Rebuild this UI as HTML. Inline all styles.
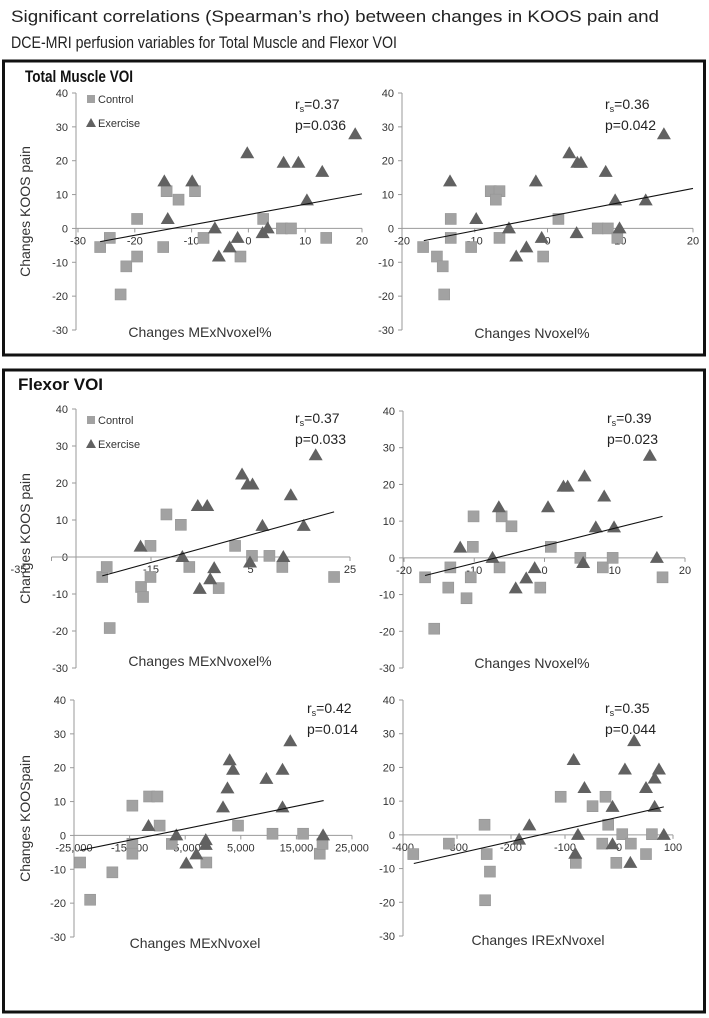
<!DOCTYPE html>
<html><head><meta charset="utf-8"><style>
html,body{margin:0;padding:0;background:#fff;}
svg{display:block;font-family:"Liberation Sans",sans-serif;}
</style></head><body>
<svg id="fig" width="709" height="1018" viewBox="0 0 709 1018" xmlns="http://www.w3.org/2000/svg">
<text x="11" y="22" font-size="17" fill="#222" textLength="648" lengthAdjust="spacingAndGlyphs">Significant correlations (Spearman’s rho) between changes in KOOS pain and</text>
<text x="11" y="48" font-size="17" fill="#222" textLength="386" lengthAdjust="spacingAndGlyphs">DCE-MRI perfusion variables for Total Muscle and Flexor VOI</text>
<rect x="3.5" y="61" width="701" height="294" fill="none" stroke="#111" stroke-width="3"/>
<text x="25" y="82" font-size="17" font-weight="bold" fill="#111" textLength="108" lengthAdjust="spacingAndGlyphs">Total Muscle VOI</text>
<rect x="3.5" y="370" width="701" height="642" fill="none" stroke="#111" stroke-width="3"/>
<text x="18" y="390" font-size="17" font-weight="bold" fill="#111">Flexor VOI</text>
<g id="charts"></g>
</svg>
<script>
// ---- chart data (data units) ----
const yTicks = [-30,-20,-10,0,10,20,30,40];
// A: Total muscle, MExNvoxel%
const aXTicks = [-30,-20,-10,0,10,20];
const aCtrlX = [-26.1,-24.4,-21.5,-22.5,-19.6,-19.6,-15,-14.4,-12.3,-9.4,-7.9,-1.4,2.6,5.9,7.5,13.7];
const aCtrlY = [-5.5,-2.8,-11.2,-19.5,2.8,-8.3,-5.5,11,8.5,11,-2.8,-8.3,2.8,0,0,-2.8];
const aExX = [-14.8,-14.2,-9.9,-5.9,-5.2,-3.3,-1.9,-0.2,2.5,3.4,6.2,8.8,10.3,13,18.8];
const aExY = [13.9,2.8,13.9,0,-8.3,-5.6,-2.8,22.2,-1.4,0,19.4,19.4,8.3,16.7,27.8];
const aTrendX = [-26.1,20];
const aTrendY = [-3.9,10.2];
// B: Total muscle, Nvoxel%
const bXTicks = [-20,-10,0,10,20];
const bCtrlX = [-17.1,-15.2,-14.4,-14.2,-13.3,-13.3,-10.5,-7.8,-6.6,-7.1,-6.6,-0.6,1.5,6.9,8.3,9.6];
const bCtrlY = [-5.5,-8.3,-11.2,-19.5,2.8,-2.8,-5.5,11,11,8.5,-2.8,-8.3,2.8,0,0,-2.8];
const bExX = [-13.4,-9.8,-5.3,-4.3,-2.9,-0.8,-1.6,3,4,4.1,4.6,8,9.3,9.9,13.5,16];
const bExY = [13.9,2.8,0,-8.3,-5.6,-2.8,13.9,22.2,-1.4,19.4,19.4,16.7,8.3,0,8.3,27.8];
const bTrendX = [-17,20];
const bTrendY = [-3.6,11.8];
// C: Flexor, MExNvoxel%
const cXTicks = [-35,-15,5,25];
const cCtrlX = [-24.8,-23.9,-23.3,-17,-16.6,-15.1,-15.1,-11.9,-9,-7.3,-1.4,1.9,5.3,8.8,11.4,21.8];
const cCtrlY = [-5.4,-2.7,-19.2,-8.1,-10.8,3,-5.4,11.5,8.7,-2.7,-8.4,3,0.3,0.3,-2.7,-5.4];
const cExX = [-17.1,-8.7,-5.6,-3.7,-5.2,-3.1,-2.3,3.3,4.4,5.4,4.9,7.4,11.6,13.1,15.7,18.1];
const cExY = [2.8,0,13.8,13.8,-8.6,-6,-3,22.3,19.6,19.6,-1.5,8.4,0,16.7,8.4,27.5];
const cTrendX = [-24.8,21.8];
const cTrendY = [-5.1,12.2];
// D: Flexor, Nvoxel%
const dXTicks = [-20,-10,0,10,20];
const dCtrlX = [-17,-15.7,-13.7,-13.4,-11.1,-10.5,-10.1,-10.2,-6.4,-6.1,-4.7,-0.6,0.9,5.1,8.3,9.7,16.8];
const dCtrlY = [-5.3,-19.3,-8.1,-2.6,-11,-5.3,11.3,3,-2.6,11.3,8.6,-8.1,3,0,-2.6,0,-5.3];
const dExX = [-12,-7.4,-6.5,-4.1,-2.6,-1.4,0.5,2.7,3.3,5.7,5.5,7.3,8.5,9.9,15,16];
const dExY = [2.8,0,13.8,-8.3,-5.6,-2.8,13.8,19.4,19.4,22.2,-1.4,8.3,16.7,8.3,27.8,0];
const dTrendX = [-17,16.8];
const dTrendY = [-4.8,11.3];
// E: Flexor, MExNvoxel
const eXTicks = [-25000,-15000,-5000,5000,15000,25000];
const eXLabels = ["-25,000","-15,000","-5,000","5,000","15,000","25,000"];
const eCtrlX = [-23900,-22100,-18100,-14500,-14500,-14500,-11500,-10000,-9600,-7400,-1200,4500,10700,16200,19200,19700];
const eCtrlY = [-8,-19,-10.9,8.8,-2.5,-5.4,11.5,11.5,2.9,-2.5,-8,2.9,0.5,0.5,-5.4,-2.5];
const eExX = [-11600,-6600,-4800,-3000,-1300,-1300,1800,2600,3000,3600,9600,12500,12500,13900,19800];
const eExY = [2.8,0,-8.3,-5.6,-1.4,-2.8,8.3,13.9,22.2,19.4,16.7,19.4,8.3,27.8,0];
const eTrendX = [-23900,19900];
const eTrendY = [-4.4,10.3];
// F: Flexor, IRExNvoxel
const fXTicks = [-400,-300,-200,-100,0,100];
const fCtrlX = [-381,-315,-249,-245,-239,-248,-108,-80,-49,-31,-25,-20,-5,6,22,50,61];
const fCtrlY = [-5.7,-2.6,3,-5.7,-10.9,-19.4,11.3,-8.3,8.5,-2.6,11.3,3,-8.3,0.2,-2.6,-5.7,0.2];
const fExX = [-185,-166,-84,-81,-76,-64,-12,-12,11,21,28,50,66,74,66,83];
const fExY = [-1.4,2.8,22.2,-5.6,0,13.9,8.3,-2.8,19.4,-8.3,27.8,13.9,16.7,19.4,8.3,0];
const fTrendX = [-380,83];
const fTrendY = [-8.5,8.3];

const NS = "http://www.w3.org/2000/svg";
const root = document.getElementById('charts');
function mk(tag, attrs, parent){
  const e = document.createElementNS(NS, tag);
  for (const k in attrs) e.setAttribute(k, attrs[k]);
  (parent||root).appendChild(e);
  return e;
}
function drawChart(c){
  const g = mk('g', {});
  
  
  const sx = v => c.px0 + (v - c.x0) * (c.px1 - c.px0) / (c.x1 - c.x0);
  const sy = v => c.py0 + (v - 40) * (c.py1 - c.py0) / (-70);
  // y axis
  const ya = mk('line', {x1:c.axisX, x2:c.axisX, y1:sy(40), y2:sy(-30), stroke:'#9a9a9a', 'stroke-width':1}, g);
  
  
  yTicks.forEach(v => {
    mk('line', {x1:c.axisX-4, x2:c.axisX, y1:sy(v), y2:sy(v), stroke:'#9a9a9a'}, g);
    const t = mk('text', {x:c.axisX-8, y:sy(v)+4, 'font-size':11, fill:'#333', 'text-anchor':'end'}, g);
    t.textContent = v;
    
    
  });
  // x axis at y=0
  const xa = mk('line', {x1:Math.min(c.axisX, sx(c.xTicks[0])), x2:sx(c.xTicks[c.xTicks.length-1]), y1:sy(0), y2:sy(0), stroke:'#9a9a9a'}, g);
  
  
  c.xTicks.forEach((v,i) => {
    mk('line', {x1:sx(v), x2:sx(v), y1:sy(0), y2:sy(0)+4, stroke:'#9a9a9a'}, g);
    let lx = sx(v);
    if (i===0 && c.firstDx) lx += c.firstDx;
    const t = mk('text', {x:lx, y:sy(0)+16, 'font-size':11, fill:'#333', 'text-anchor':'middle'}, g);
    t.textContent = c.xLabels ? c.xLabels[i] : v;
    
    
  });
  // control squares
  c.cx.forEach((v,i) => {
    const s = mk('rect', {x:sx(v)-5.5, y:sy(c.cy[i])-5.5, width:11, height:11, fill:'#a2a2a2', stroke:'#959595', 'stroke-width':0.6}, g);
    
    
  });
  // exercise triangles
  c.ex.forEach((v,i) => {
    const x = sx(v), y = sy(c.ey[i]);
    const p = mk('polygon', {points:`${x},${y-7} ${x+7},${y+5} ${x-7},${y+5}`, fill:'#616161'}, g);
    
    
  });
  // trend line
  const tl = mk('line', {x1:sx(c.tx[0]), y1:sy(c.ty[0]), x2:sx(c.tx[1]), y2:sy(c.ty[1]), stroke:'#111', 'stroke-width':1.1}, g);
  
  
  // annotation
  const r = mk('text', {x:c.annX, y:c.annY, 'font-size':14, fill:'#222'}, g);
  r.innerHTML = 'r<tspan font-size="9" dy="3">s</tspan><tspan dy="-3">=' + c.rs + '</tspan>';
  
  
  const p = mk('text', {x:c.annX, y:c.annY+21, 'font-size':14, fill:'#222'}, g);
  p.textContent = 'p=' + c.p;
  
  
  // x title
  const xt = mk('text', {x:c.xtX, y:c.xtY, 'font-size':14, fill:'#333', 'text-anchor':'middle'}, g);
  xt.textContent = c.xTitle;
  
  
  if (c.yTitle){
    const ycy = (sy(40)+sy(-30))/2;
    const yt = mk('text', {x:30, y:ycy, 'font-size':14, fill:'#333', 'text-anchor':'middle', transform:`rotate(-90 30 ${ycy})`}, g);
    yt.textContent = c.yTitle;
    
    
  }
  if (c.legendY){
    const lx = c.axisX + 11;
    const ls = mk('rect', {x:lx, y:c.legendY-4, width:8, height:8, fill:'#a2a2a2'}, g);
    
    
    const l1 = mk('text', {x:lx+11, y:c.legendY+4, 'font-size':11, fill:'#333'}, g);
    l1.textContent = 'Control';
    
    
    const ly = c.legendY + 24;
    const lt = mk('polygon', {points:`${lx+4},${ly-5} ${lx+9},${ly+4} ${lx-1},${ly+4}`, fill:'#616161'}, g);
    
    
    const l2 = mk('text', {x:lx+11, y:ly+4, 'font-size':11, fill:'#333'}, g);
    l2.textContent = 'Exercise';
    
    
  }
}
drawChart({name:'chart-total-mexnvoxel-pct', axisX:76, x0:-30, x1:20, px0:78, px1:362, py0:93, py1:330, xTicks:aXTicks,
  cx:aCtrlX, cy:aCtrlY, ex:aExX, ey:aExY, tx:aTrendX, ty:aTrendY, rs:'0.37', p:'0.036', annX:295, annY:109,
  xTitle:'Changes MExNvoxel%', xtX:200, xtY:337, yTitle:'Changes KOOS pain', legendY:99});
drawChart({name:'chart-total-nvoxel-pct', axisX:402, x0:-20, x1:20, px0:402, px1:693, py0:93, py1:330, xTicks:bXTicks,
  cx:bCtrlX, cy:bCtrlY, ex:bExX, ey:bExY, tx:bTrendX, ty:bTrendY, rs:'0.36', p:'0.042', annX:605, annY:109,
  xTitle:'Changes Nvoxel%', xtX:532, xtY:338});
drawChart({name:'chart-flexor-mexnvoxel-pct', axisX:76, x0:-15, x1:25, px0:151, px1:350, py0:409, py1:668, xTicks:cXTicks, firstDx:-33,
  cx:cCtrlX, cy:cCtrlY, ex:cExX, ey:cExY, tx:cTrendX, ty:cTrendY, rs:'0.37', p:'0.033', annX:295, annY:423,
  xTitle:'Changes MExNvoxel%', xtX:200, xtY:666, yTitle:'Changes KOOS pain', legendY:420});
drawChart({name:'chart-flexor-nvoxel-pct', axisX:403, x0:-20, x1:20, px0:404, px1:685, py0:411, py1:668, xTicks:dXTicks,
  cx:dCtrlX, cy:dCtrlY, ex:dExX, ey:dExY, tx:dTrendX, ty:dTrendY, rs:'0.39', p:'0.023', annX:607, annY:423,
  xTitle:'Changes Nvoxel%', xtX:532, xtY:668});
drawChart({name:'chart-flexor-mexnvoxel', axisX:74, x0:-25000, x1:25000, px0:74, px1:352, py0:700, py1:937, xTicks:eXTicks, xLabels:eXLabels,
  cx:eCtrlX, cy:eCtrlY, ex:eExX, ey:eExY, tx:eTrendX, ty:eTrendY, rs:'0.42', p:'0.014', annX:307, annY:713,
  xTitle:'Changes MExNvoxel', xtX:195, xtY:948, yTitle:'Changes KOOSpain'});
drawChart({name:'chart-flexor-irexnvoxel', axisX:403, x0:-400, x1:100, px0:403, px1:673, py0:700, py1:936, xTicks:fXTicks,
  cx:fCtrlX, cy:fCtrlY, ex:fExX, ey:fExY, tx:fTrendX, ty:fTrendY, rs:'0.35', p:'0.044', annX:605, annY:713,
  xTitle:'Changes IRExNvoxel', xtX:538, xtY:945});
</script>
</body></html>
